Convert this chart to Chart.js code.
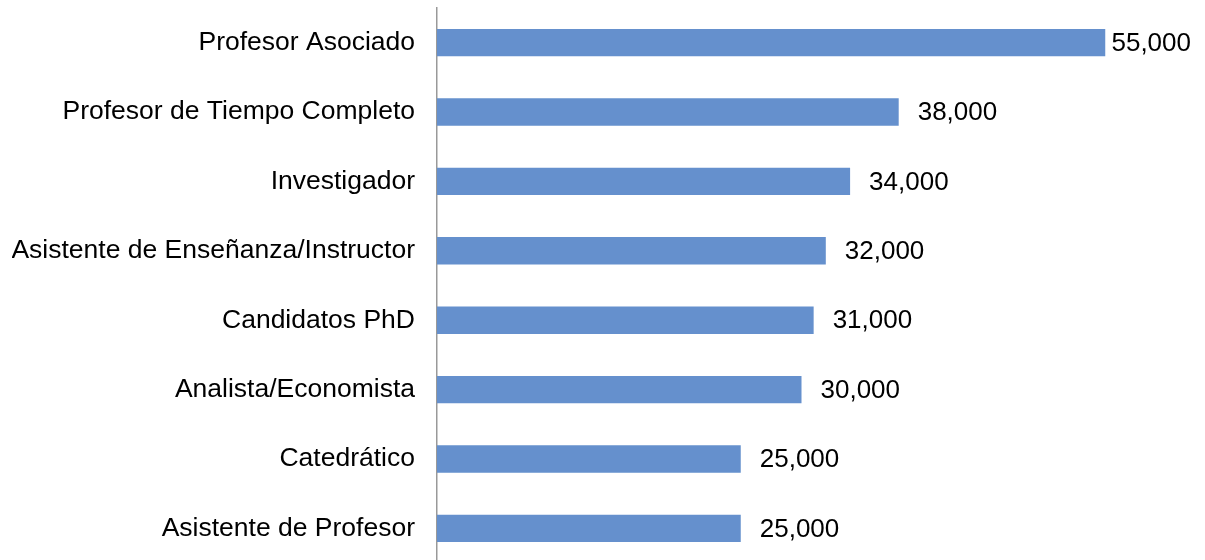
<!DOCTYPE html>
<html>
<head>
<meta charset="utf-8">
<script src="https://cdn.jsdelivr.net/npm/chart.js@4"></script>
<style>
    html, body { margin: 0; padding: 0; background: #fff; overflow: hidden; height: 560px; }
    #wrap { position: relative; width: 1205px; height: 631px; margin-top: -30px; }
</style>
</head>
<body>
<div id="wrap"><canvas id="chart"></canvas></div>
<script>
const categories = [
    'Profesor Asociado',
    'Profesor de Tiempo Completo',
    'Investigador',
    'Asistente de Enseñanza/Instructor',
    'Candidatos PhD',
    'Analista/Economista',
    'Catedrático',
    'Asistente de Profesor'
];
const salaries = [55000, 38000, 34000, 32000, 31000, 30000, 25000, 25000];
const axisMax = 60000;

const fontFamily = '"Liberation Sans", Arial, Helvetica, sans-serif';

// value labels at the end of each bar, kept inside the canvas
const valueLabels = {
    id: 'valueLabels',
    afterDatasetsDraw(chart){
        const ctx = chart.ctx;
        const meta = chart.getDatasetMeta(0);
        ctx.save();
        ctx.font = '26px ' + fontFamily;
        ctx.fillStyle = '#000';
        ctx.textBaseline = 'middle';
        ctx.textAlign = 'left';
        meta.data.forEach((bar, i) => {
            const txt = salaries[i].toLocaleString('en-US');
            const w = ctx.measureText(txt).width;
            let x = bar.x + 19;
            if(x + w > chart.width - 14) x = chart.width - 14 - w;
            ctx.fillText(txt, x, bar.y + 1);
        });
        ctx.restore();
    }
};

new Chart(document.getElementById('chart'), {
    type: 'bar',
    data: {
        labels: categories,
        datasets: [{
            data: salaries,
            backgroundColor: '#6590cd',
            borderWidth: 0,
            categoryPercentage: 1,
            barPercentage: 0.395
        }]
    },
    options: {
        indexAxis: 'y',
        responsive: true,
        maintainAspectRatio: false,
        animation: false,
        layout: { padding: { left: 12, right: 39, top: 7, bottom: 0 } },
        plugins: { legend: { display: false }, tooltip: { enabled: false } },
        scales: {
            x: { display: false, min: 0, max: axisMax },
            y: {
                afterFit(scale){ scale.width = 425; },
                grid: { display: false, drawTicks: false },
                border: { display: true, color: '#999', width: 1.5 },
                ticks: {
                    color: '#000',
                    padding: 22,
                    font: { family: fontFamily, size: 26.5 }
                }
            }
        }
    },
    plugins: [valueLabels]
});
</script>
</body>
</html>
